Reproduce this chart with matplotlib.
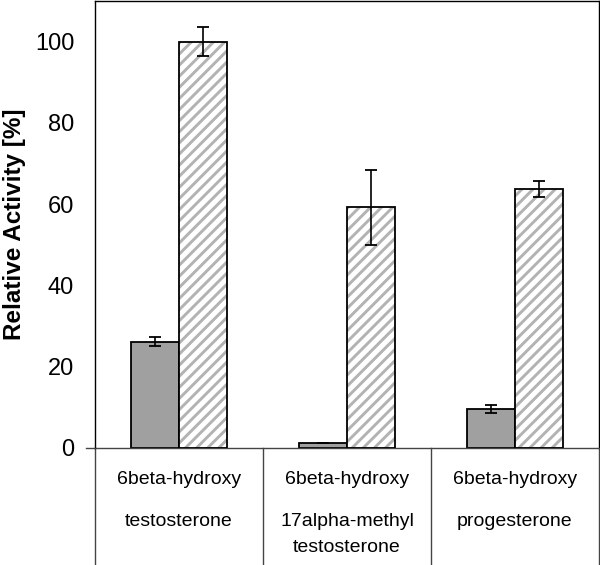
import matplotlib
matplotlib.use("Agg")
import matplotlib.pyplot as plt
import numpy as np

plt.rcParams['font.family'] = ['Liberation Sans', 'DejaVu Sans']
plt.rcParams['hatch.linewidth'] = 2.1

# Data
category_lines = [
    ["6beta-hydroxy", "testosterone", ""],
    ["6beta-hydroxy", "17alpha-methyl", "testosterone"],
    ["6beta-hydroxy", "progesterone", ""],
]
gray_values = [26.2, 1.2, 9.6]
gray_errors = [1.2, 0.0, 1.1]
hatch_values = [100.0, 59.2, 63.7]
hatch_errors = [3.5, 9.3, 2.0]
yticks = [0, 20, 40, 60, 80, 100]

fig = plt.figure(figsize=(6.0, 5.65), dpi=100)
ax = fig.add_axes([95/600, 117/565, 504/600, 447/565])

x = np.arange(len(category_lines))
w = 0.2857

# gray bars
ax.bar(x - w/2, gray_values, w, color='#a0a0a0', edgecolor='black', linewidth=1.3, zorder=2)
ax.errorbar(x - w/2, gray_values, yerr=gray_errors, fmt='none', ecolor='black',
            elinewidth=1.2, capsize=4.5, capthick=1.3, zorder=4)

# hatched bars: hatch layer in gray, then black outline
ax.bar(x + w/2, hatch_values, w, color='white', edgecolor='#b3b3b3', hatch='///',
       linewidth=0, zorder=2)
ax.bar(x + w/2, hatch_values, w, fill=False, edgecolor='black', linewidth=1.3, zorder=3)
ax.errorbar(x + w/2, hatch_values, yerr=hatch_errors, fmt='none', ecolor='black',
            elinewidth=1.2, capsize=4.5, capthick=1.3, zorder=4)

ax.set_xlim(-0.5, len(category_lines) - 0.5)
ax.set_ylim(0, 110)
ax.set_yticks(yticks)
ax.set_yticklabels([str(t) for t in yticks], fontsize=17)
ax.tick_params(axis='y', length=0, pad=15)
ax.set_xticks([])

for s in ax.spines.values():
    s.set_linewidth(1.0)
    s.set_color('black')
ax.spines['bottom'].set_color('#444444')

ax.set_ylabel('Relative Activity [%]', fontsize=17.5, fontweight='bold', labelpad=6)

# category table below the axis
trans = ax.get_xaxis_transform()
bottom_ext = -117/447
for b in np.arange(len(category_lines) + 1) - 0.5:
    ax.plot([b, b], [0, bottom_ext], transform=trans, color='#444444', lw=1.0, clip_on=False)
# short outward extension of zero line
ax.plot([-9/504, 0], [0, 0], transform=ax.transAxes, color='#444444', lw=1.0, clip_on=False)

row_y = [-31/447, -74/447, -100/447]
for i, lines in enumerate(category_lines):
    for j, txt in enumerate(lines):
        if txt:
            ax.text(x[i], row_y[j], txt, transform=trans, ha='center', va='center',
                    fontsize=14)

fig.savefig('out.png', dpi=100)
